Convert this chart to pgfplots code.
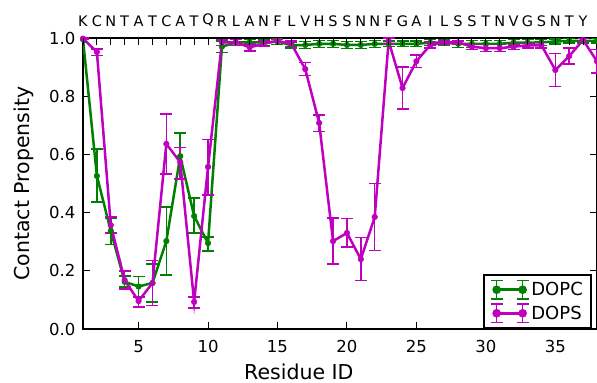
\documentclass[border=0pt]{standalone}
\usepackage{pgfplots}
\pgfplotsset{compat=1.18}
\usepackage{pgfplotstable}
\usepackage{fontspec}
\setmainfont{DejaVu Sans}
\definecolor{dopc}{rgb}{0,0.5,0}
\definecolor{dops}{rgb}{0.75,0,0.75}

\pgfplotstableread{
x y ep em
1 0.995 0.005 0.01
2 0.526 0.093 0.090
3 0.337 0.043 0.047
4 0.162 0.020 0.017
5 0.146 0.034 0.036
6 0.158 0.065 0.065
7 0.302 0.117 0.116
8 0.594 0.080 0.079
9 0.388 0.062 0.058
10 0.295 0.021 0.027
11 0.970 0.020 0.020
12 0.985 0.010 0.010
13 0.985 0.010 0.010
14 0.985 0.010 0.010
15 0.988 0.010 0.010
16 0.975 0.010 0.010
17 0.976 0.012 0.012
18 0.980 0.012 0.012
19 0.980 0.012 0.012
20 0.976 0.012 0.012
21 0.976 0.012 0.012
22 0.980 0.012 0.012
23 0.980 0.010 0.010
24 0.980 0.010 0.010
25 0.980 0.010 0.010
26 0.984 0.010 0.010
27 0.984 0.010 0.010
28 0.980 0.012 0.012
29 0.980 0.012 0.012
30 0.980 0.012 0.012
31 0.980 0.012 0.012
32 0.984 0.010 0.010
33 0.984 0.010 0.010
34 0.985 0.010 0.010
35 0.988 0.008 0.008
36 0.990 0.008 0.008
37 0.990 0.008 0.008
38 0.990 0.008 0.008
}\dopctab

\pgfplotstableread{
x y ep em
1 0.998 0.002 0.004
2 0.952 0.010 0.012
3 0.357 0.028 0.027
4 0.168 0.032 0.031
5 0.096 0.014 0.020
6 0.158 0.077 0.078
7 0.636 0.103 0.103
8 0.573 0.050 0.058
9 0.093 0.017 0.021
10 0.557 0.095 0.097
11 0.985 0.010 0.010
12 0.985 0.010 0.010
13 0.968 0.012 0.012
14 0.980 0.010 0.010
15 0.990 0.005 0.005
16 0.980 0.010 0.010
17 0.893 0.022 0.022
18 0.708 0.028 0.030
19 0.302 0.079 0.079
20 0.330 0.049 0.049
21 0.240 0.074 0.074
22 0.385 0.115 0.115
23 0.990 0.010 0.010
24 0.828 0.072 0.072
25 0.920 0.022 0.022
26 0.976 0.010 0.010
27 0.985 0.005 0.005
28 0.985 0.005 0.005
29 0.970 0.010 0.010
30 0.965 0.012 0.012
31 0.965 0.012 0.012
32 0.970 0.010 0.010
33 0.975 0.010 0.010
34 0.975 0.010 0.010
35 0.890 0.057 0.057
36 0.938 0.028 0.028
37 0.993 0.005 0.005
38 0.920 0.040 0.040
}\dopstab

\newcommand{\errleg}[1]{%
  \draw[#1, line width=2.5bp] (0bp,0bp) -- (26bp,0bp);
  \draw[#1, line width=1.5bp] (0bp,-9bp)--(0bp,9bp) (-6bp,-9bp)--(6bp,-9bp) (-6bp,9bp)--(6bp,9bp)
     (26bp,-9bp)--(26bp,9bp) (20bp,-9bp)--(32bp,-9bp) (20bp,9bp)--(32bp,9bp);
  \fill[#1] (0bp,0bp) circle (3bp) (26bp,0bp) circle (3bp);
}

\begin{document}
\begin{tikzpicture}
\begin{axis}[
  at={(83bp,54bp)}, anchor=south west,
  width=514bp, height=291bp, scale only axis,
  xmin=1, xmax=38, ymin=0, ymax=1,
  xtick={5,10,15,20,25,30,35},
  ytick={0,0.2,0.4,0.6,0.8,1.0},
  xtick pos=left, ytick pos=both,
  tick align=inside, major tick length=7bp,
  tick style={black, line width=1bp},
  axis line style={line width=2bp},
  /pgf/number format/assume math mode=true,
  yticklabel style={/pgf/number format/.cd, fixed, fixed zerofill, precision=1, /tikz/.cd,
     font=\fontsize{16.5bp}{19bp}\selectfont, inner sep=0pt, xshift=-7.5bp},
  xticklabel style={font=\fontsize{16.5bp}{19bp}\selectfont, inner sep=0pt, yshift=-11bp},
  xlabel={Residue ID}, ylabel={Contact Propensity},
  xlabel style={at={(axis description cs:0.42,-0.172)}, anchor=base, inner sep=0pt,
     font=\fontsize{20.5bp}{24bp}\selectfont},
  ylabel style={at={(axis description cs:-0.105,0.5)}, anchor=base, inner sep=0pt,
     font=\fontsize{20.5bp}{24bp}\selectfont},
  legend style={at={(axis description cs:0.778,0)}, anchor=south west, draw=black,
     line width=2bp, font=\fontsize{18bp}{21bp}\selectfont,
     inner xsep=6bp, inner ysep=5bp, row sep=4bp},
  legend cell align=left,
]
\addplot[dopc, line width=2.5bp, mark=*, mark size=2.8bp, mark options={solid, line width=0.5bp},
  legend image code/.code={\errleg{dopc}},
  error bars/.cd, y dir=both, y explicit,
  error bar style={line width=1.5bp},
  error mark options={rotate=90, line width=1.5bp, mark size=6bp}]
  table[x=x, y=y, y error plus=ep, y error minus=em]{\dopctab};
\addlegendentry{DOPC}
\addplot[dops, line width=2.5bp, mark=*, mark size=2.8bp, mark options={solid, line width=0.5bp},
  legend image code/.code={\errleg{dops}},
  error bars/.cd, y dir=both, y explicit,
  error bar style={line width=1.5bp},
  error mark options={rotate=90, line width=1.5bp, mark size=6bp}]
  table[x=x, y=y, y error plus=ep, y error minus=em]{\dopstab};
\addlegendentry{DOPS}
\end{axis}
\begin{axis}[
  at={(83bp,54bp)}, anchor=south west,
  width=514bp, height=291bp, scale only axis,
  xmin=1, xmax=38, ymin=0, ymax=1,
  hide y axis, axis line style={draw=none},
  xtick={1,2,...,38}, xtick pos=right, xticklabel pos=right,
  xticklabels={K,C,N,T,A,T,C,A,T,Q,R,L,A,N,F,L,V,H,S,S,N,N,F,G,A,I,L,S,S,T,N,V,G,S,N,T,Y,{}},
  tick align=inside, major tick length=7bp,
  tick style={black, line width=1bp},
  xticklabel style={font=\fontsize{14.5bp}{17bp}\selectfont, inner sep=0pt, anchor=south, yshift=11bp},
]
\end{axis}
\pgfresetboundingbox
\useasboundingbox (0,0) rectangle (597bp,383bp);
\end{tikzpicture}
\end{document}
